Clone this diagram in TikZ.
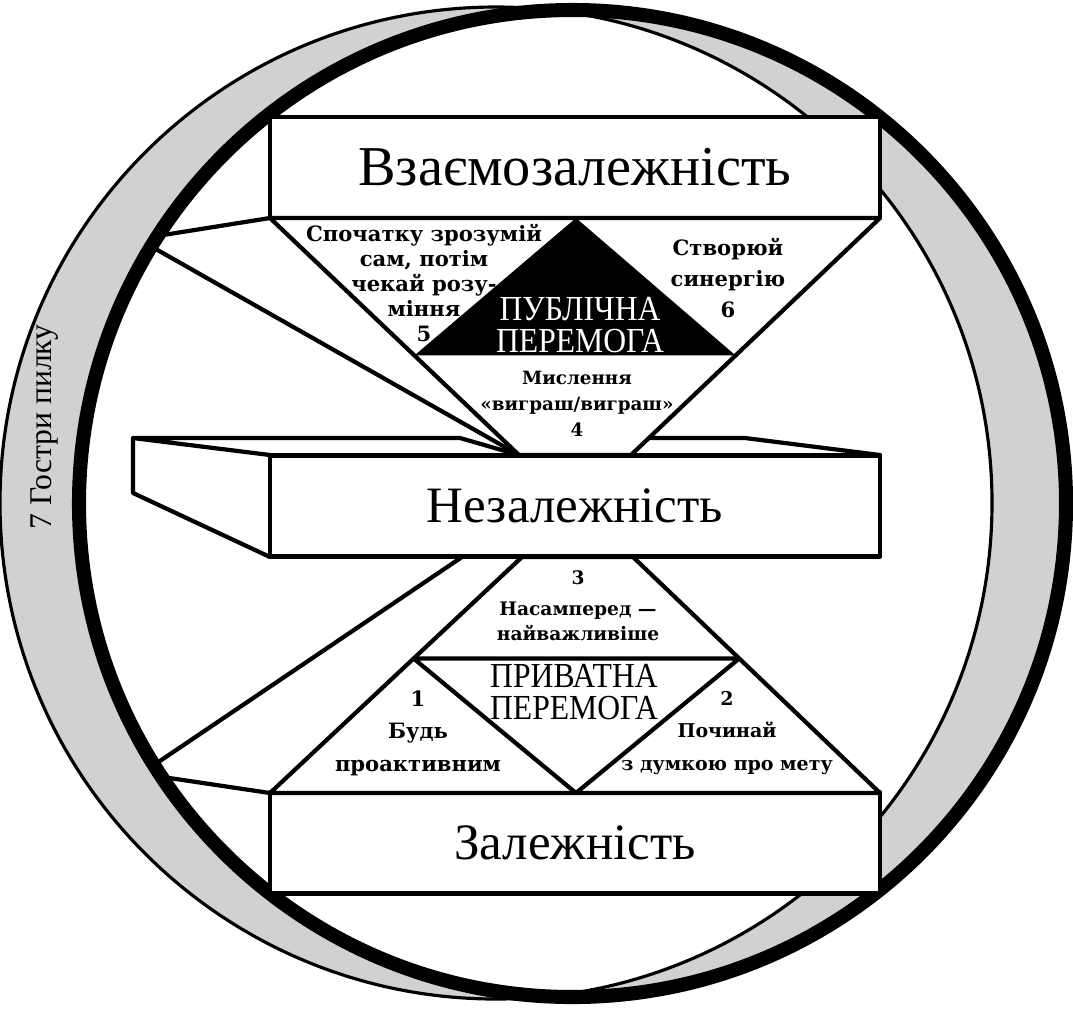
\documentclass[tikz,border=0pt]{standalone}
\usepackage{fontspec}
\setmainfont{DejaVu Serif}
\newfontfamily\timesfont{Liberation Serif}
\newfontfamily\winfont{Liberation Serif}[FakeStretch=0.9]
\usetikzlibrary{calc}
\definecolor{ringgray}{RGB}{208,209,211}
\begin{document}
\begin{tikzpicture}[x=0.01cm,y=-0.01cm,line cap=round,line join=round,
ln/.style={line width=1.2pt},
stage/.style={draw,fill=white,line width=1.2pt,minimum width=6.1cm,minimum height=1.01cm,inner sep=0pt,outer sep=0pt,font=\timesfont\fontsize{14.5}{17}\selectfont},
habit/.style={align=center,inner sep=0pt,font=\bfseries\fontsize{6}{7.1}\selectfont},
win/.style={align=center,inner sep=0pt,font=\winfont\fontsize{10}{9}\selectfont}]
\useasboundingbox (0,0) rectangle (1073,1008);
\fill[ringgray,even odd rule] (496,503) circle[radius=496] (572.5,503.5) circle[radius=493.5];
\coordinate (c1) at (157,236);
\coordinate (c2) at (154,248);
\coordinate (c3) at (154,765);
\coordinate (c4) at (156,776);
\coordinate (ul) at (270,218);
\coordinate (ur) at (880,218);
\coordinate (bl) at (519,455);
\coordinate (br) at (631,455);
\coordinate (lt) at (522,557);
\coordinate (rt) at (633,557);
\coordinate (lb) at (270,793);
\coordinate (rb) at (880,793);
\coordinate (mb) at (462,557);
\draw[ln] (c1) -- (ul) (c2) -- (bl) (c3) -- (mb) (c4) -- (lb);
\draw[line width=4pt] (572.5,503.5) circle[radius=493.5];
\draw[line width=0.9pt] (496,503) circle[radius=496];
\draw[ln] (133,438) -- (270,455) (133,438) -- (133,493) -- (270,557)
  (133,438) -- (460,438) -- (bl) (650,438) -- (745,438) -- (880,455);
\node[stage,font=\timesfont\fontsize{16}{19}\selectfont] (inter) at (575,167.5) {Взаємозалежність};
\node[stage] (indep) at (575,506) {Незалежність};
\node[stage] (dep) at (575,843) {Залежність};
\draw[ln,fill=white] (ul) -- (ur) -- (br) -- (bl) -- cycle;
\fill ($(ul)!0.58!(bl)$) -- (576,218) -- ($(ur)!0.58!(br)$) -- cycle;
\draw[ln,fill=white] (lt) -- (rt) -- (rb) -- (lb) -- cycle;
\coordinate (ml) at ($(lt)!0.43!(lb)$);
\coordinate (mr) at ($(rt)!0.43!(rb)$);
\draw[ln] (ml) -- (mr) -- (576,793) -- cycle;
\node[habit] (h5) at (424,283) {Спочатку зрозумій\\сам, потім\\чекай розу-\\міння\\5};
\node[habit,font=\bfseries\fontsize{6}{8.8}\selectfont] (h6) at (728,278) {Створюй\\синергію\\6};
\node[win,text=white] (pub) at (580,325) {ПУБЛІЧНА\\ПЕРЕМОГА};
\node[habit,font=\bfseries\fontsize{5.2}{7.4}\selectfont] (h4) at (577,404) {Мислення\\«виграш/виграш»\\4};
\node[habit,font=\bfseries\fontsize{5.3}{7.3}\selectfont] (h3) at (578,606) {3\\[1.3pt]Насамперед —\\найважливіше};
\node[win] (priv) at (574,692) {ПРИВАТНА\\ПЕРЕМОГА};
\node[habit,font=\bfseries\fontsize{6}{9.2}\selectfont] (h1) at (418,733) {1\\Будь\\проактивним};
\node[habit,font=\bfseries\fontsize{5.4}{9.2}\selectfont] (h2) at (727,733) {2\\Починай\\з думкою про мету};
\node[rotate=90,inner sep=0pt,font=\timesfont\fontsize{9}{11}\selectfont] (saw) at (45,427) {7 Гостри пилку};
\end{tikzpicture}
\end{document}
